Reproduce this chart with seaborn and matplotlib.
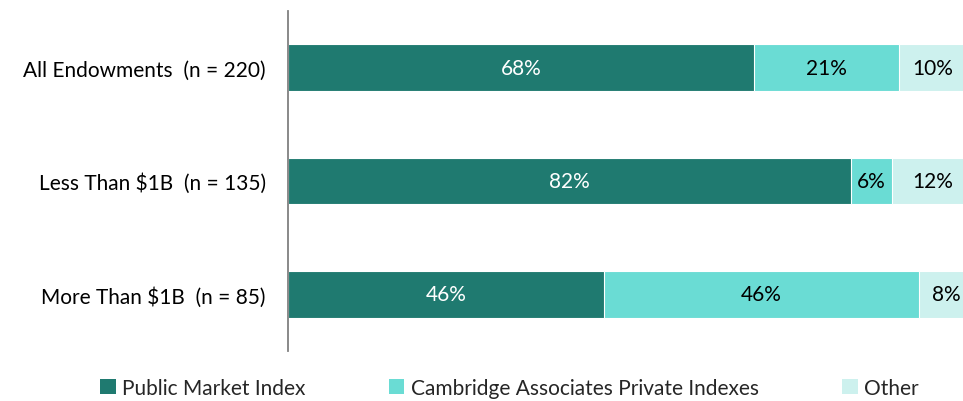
import numpy as np
import pandas as pd
import seaborn as sns
import matplotlib.pyplot as plt
from matplotlib.patches import Patch

categories = ["All Endowments  (n = 220)", "Less Than $1B  (n = 135)", "More Than $1B  (n = 85)"]
series_names = ["Public Market Index", "Cambridge Associates Private Indexes", "Other"]
public_market = [68, 82, 46]
cambridge_private = [21, 6, 46]
other = [10, 12, 8]
colors = ["#1F7A70", "#6ADCD4", "#CDF1EE"]
label_colors = ["white", "black", "black"]

sns.set_theme(style="white")
plt.rcParams["font.family"] = ["Lato", "DejaVu Sans"]

df = pd.DataFrame({
    "category": categories,
    "public": public_market,
    "private": cambridge_private,
    "other": other,
})
df["c1"] = df["public"]
df["c2"] = df["public"] + df["private"]
df["c3"] = df["c2"] + df["other"]

fig = plt.figure(figsize=(9.63, 4.02), dpi=100)
ax = fig.add_axes([288 / 963, 50 / 402, 686 / 963, 340 / 402])

# stacked bars drawn as layered cumulative totals
for col, color in zip(["c3", "c2", "c1"], colors[::-1]):
    sns.barplot(data=df, y="category", x=col, orient="h", color=color,
                width=0.41, ax=ax, edgecolor="white", linewidth=0.8,
                saturation=1)

segments = [df["public"].values, df["private"].values, df["other"].values]
starts = [np.zeros(3), df["c1"].values, df["c2"].values]
for seg, start, tc in zip(segments, starts, label_colors):
    for i, (v, s) in enumerate(zip(seg, start)):
        ax.text(s + v / 2, i, f"{v}%", ha="center", va="center",
                color=tc, fontsize=15)

ax.set_xlim(0, 100)
ax.set_ylim(2.5, -0.5)
ax.set_xlabel("")
ax.set_ylabel("")
ax.set_xticks([])
ax.tick_params(axis="y", length=0, labelsize=15, colors="black", pad=16)
for side in ["top", "right", "bottom"]:
    ax.spines[side].set_visible(False)
ax.spines["left"].set_color("#808080")
ax.spines["left"].set_linewidth(1.3)

handles = [Patch(facecolor=c, edgecolor="none") for c in colors]
fig.legend(handles, series_names, loc="center", bbox_to_anchor=(0.529, 13 / 402),
           ncol=3, frameon=False, fontsize=15, handlelength=0.75,
           handleheight=0.75, handletextpad=0.3, columnspacing=4.0)

fig.savefig("out.png", dpi=100)
